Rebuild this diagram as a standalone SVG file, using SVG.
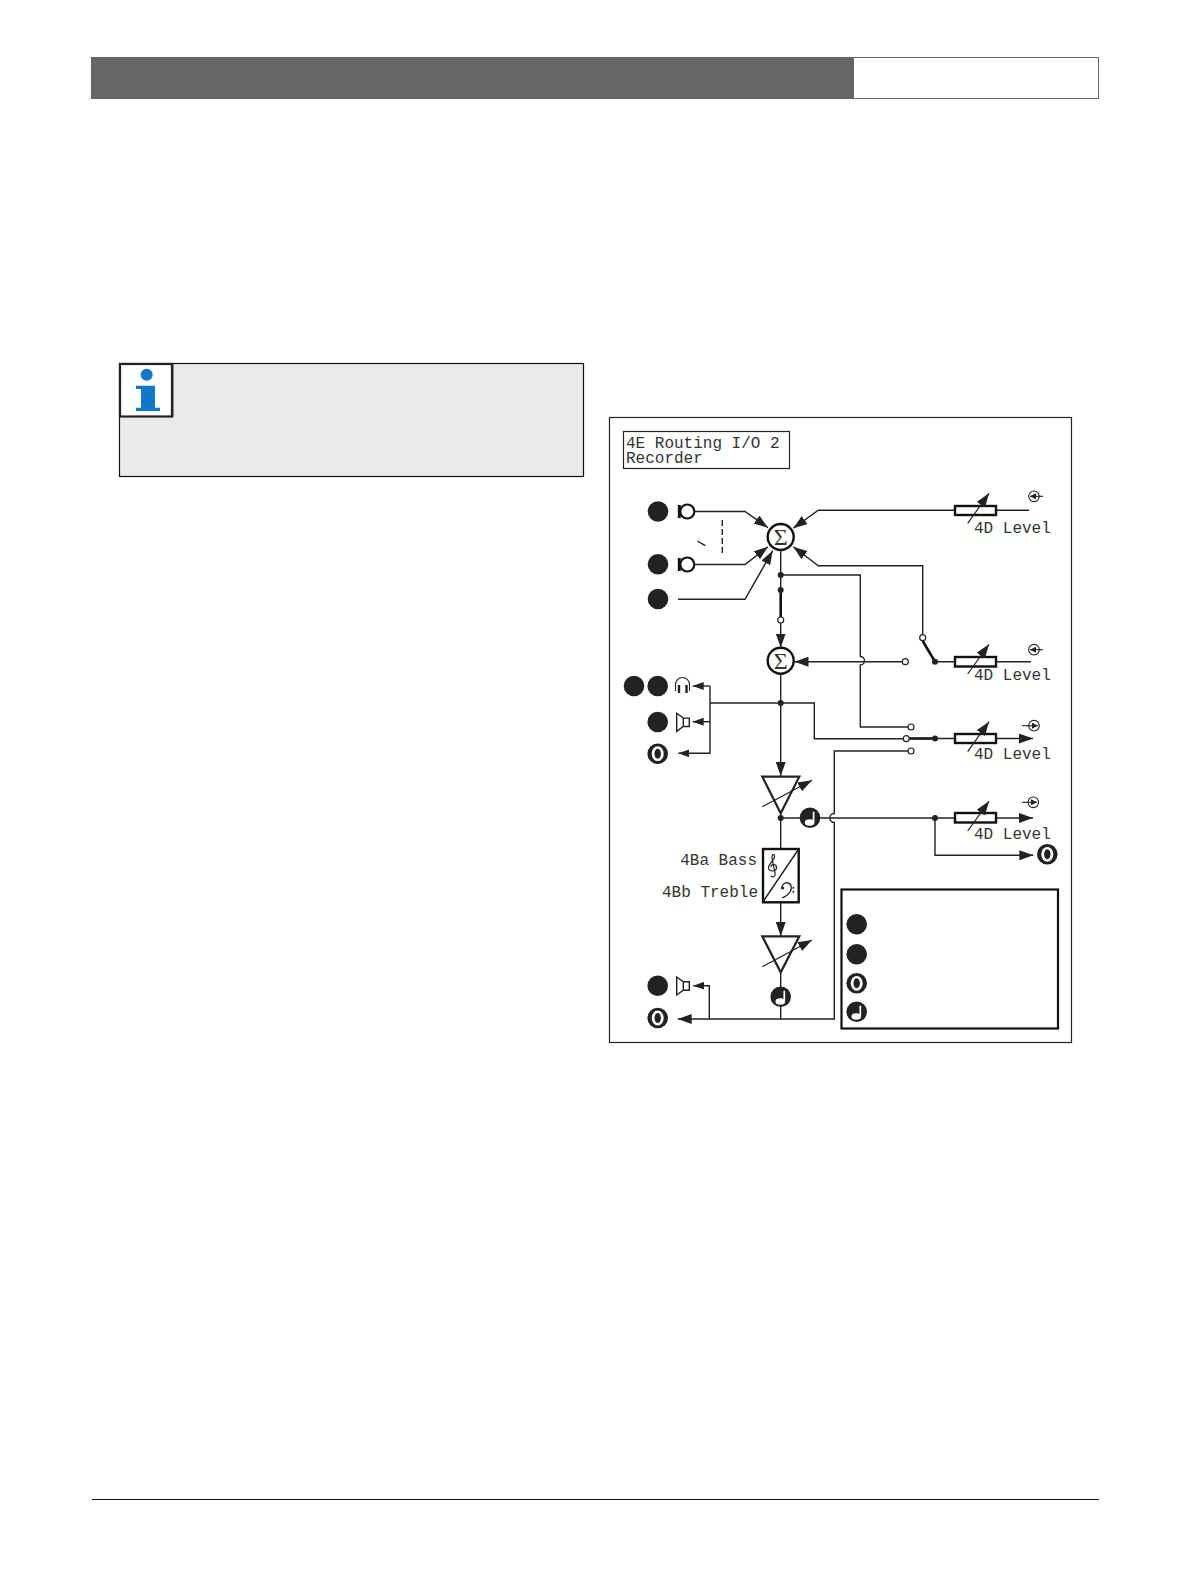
<svg xmlns="http://www.w3.org/2000/svg" width="1190" height="1588" viewBox="0 0 1190 1588">
<style>
.w{fill:none;stroke:#222;stroke-width:1.4}
.th{fill:none;stroke:#111;stroke-width:2.6}
.box{fill:#fff;stroke:#111;stroke-width:2.4}
.b{fill:#222}
.o{fill:#fff;stroke:#222;stroke-width:1.2}
.lcd{font-family:"Liberation Mono","DejaVu Sans Mono",monospace;font-size:16px;fill:#333}
.va{fill:none;stroke:#222;stroke-width:1.2;marker-end:url(#ah)}
.s{font-family:"Liberation Serif",serif;font-size:24px;fill:#333;text-anchor:middle}
.y{fill:none;stroke:#222;stroke-width:1.1}
</style>
<defs>
<marker id="ah" markerUnits="userSpaceOnUse" markerWidth="15" markerHeight="10" refX="14" refY="5" orient="auto"><path d="M0 0L14 5L0 10z" fill="#222"/></marker>
<marker id="am" markerUnits="userSpaceOnUse" markerWidth="12" markerHeight="8" refX="11" refY="4" orient="auto"><path d="M0 0L11 4L0 8z" fill="#222"/></marker>
<marker id="as" markerUnits="userSpaceOnUse" markerWidth="7" markerHeight="6" refX="6" refY="3" orient="auto"><path d="M0 0L6 3L0 6z" fill="#222"/></marker>
<g id="note"><circle r="10.3" fill="#222"/><path d="M3.6 -6V4.5" stroke="#fff" stroke-width="1.7"/><ellipse cx="-0.4" cy="4.8" rx="4.8" ry="3.2" fill="#fff"/></g>
<g id="ringc"><circle r="10.3" fill="#222"/><ellipse rx="6" ry="7.4" fill="#fff"/><ellipse rx="3.2" ry="5" fill="#222"/></g>
<g id="spk"><path d="M-6.3 -8.7L.3 -3.9H6.3V4.5H.3L-6.3 9.3Z M.3 -3.9V4.5" fill="#fff" stroke="#222" stroke-width="1.4"/></g>
<g id="mic"><path d="M-8 -6.5V6.5" stroke="#111" stroke-width="3"/><circle r="7" fill="#fff" stroke="#111" stroke-width="2.2"/></g>
</defs>
<rect width="1190" height="1588" fill="#fff"/>
<g id="header">
<rect x="91.5" y="57.5" width="1007" height="41" fill="#fff" stroke="#666" stroke-width="1"/>
<rect x="91" y="57" width="763" height="42" fill="#666"/>
</g>
<path id="footer" d="M92 1499.5H1099" stroke="#111" stroke-width="1"/>
<g id="note-box">
<rect x="119.5" y="363.5" width="464" height="113" fill="#eaeaea" stroke="#111" stroke-width="1.2"/>
<path d="M173.5 364V417" fill="none" stroke="#999" stroke-width="1"/>
<rect x="120" y="364" width="52" height="52.5" fill="#fff" stroke="#222" stroke-width="2.2"/>
<circle cx="146.7" cy="374.7" r="6" fill="#1276c9"/>
<path d="M136 385.7H155V407.7H160V411H136V407.7H141V389H136Z" fill="#1276c9"/>
</g>
<g id="frame"><rect x="609.5" y="417.5" width="462" height="625" fill="#fff" stroke="#222" stroke-width="1.2"/></g>
<g id="title"><rect x="623.5" y="431.5" width="166" height="37" fill="#fff" stroke="#222" stroke-width="1.2"/>
<text class="lcd" x="626" y="448">4E Routing I/O 2<tspan x="626" y="463">Recorder</tspan></text></g>
<g id="connectors">
<path class="w" d="M694 511.5H745L768 527.7" marker-end="url(#ah)"/>
<path class="w" d="M694 564.5H745L768 546.7" marker-end="url(#ah)"/>
<path class="w" d="M678 599.3H745L772.7 550.7" marker-end="url(#ah)"/>
<path class="w" d="M1029 510.3H818.3L793.3 528.3" marker-end="url(#ah)"/>
<path class="w" d="M922.7 634V565.7H818.3L793.3 546.7" marker-end="url(#ah)"/>
<path class="w" d="M722.3 520V555" stroke-dasharray="6 3"/>
<path class="w" d="M697.3 541L705.3 545.7"/>
<path class="w" d="M780.7 550V617"/>
<path class="th" d="M780.7 590V617"/>
<path class="w" d="M780.7 623V647.5" marker-end="url(#ah)"/>
<path class="w" d="M780.7 575H860.3V656.5a4.2 4.2 0 0 1 0 8.4V727H908"/>
<path class="w" d="M902.3 661.7H794.5" marker-end="url(#ah)"/>
<path class="w" d="M1031 661.7H935"/>
<path class="th" d="M922.7 641L935 661.7"/>
<path class="w" d="M780.7 674V776" marker-end="url(#ah)"/>
<path class="w" d="M780.7 703H710M710 686V753.3H678.3" marker-end="url(#am)"/>
<path class="w" d="M710 686H692.7" marker-end="url(#am)"/>
<path class="w" d="M710 721.7H692.7" marker-end="url(#am)"/>
<path class="w" d="M780.7 703H814.3V738.7H903"/>
<path class="th" d="M909 738.5H935"/>
<path class="w" d="M935 738.5H1033" marker-end="url(#ah)"/>
<path class="w" d="M908 751H834.3V813.5a4.5 4.5 0 0 0 0 9V1019H677.7" marker-end="url(#ah)"/>
<path class="w" d="M780.7 813V848"/>
<path class="w" d="M780.7 818H1033" marker-end="url(#ah)"/>
<path class="w" d="M935 818V855.3H1033.3" marker-end="url(#ah)"/>
<path class="w" d="M780.7 902V936" marker-end="url(#ah)"/>
<path class="w" d="M780.7 972V1019"/>
<path class="w" d="M709.3 1019V985.7H693.3" marker-end="url(#am)"/>
</g>
<g id="junctions">
<circle class="b" cx="780.7" cy="575" r="3"/><circle class="b" cx="780.7" cy="590" r="3"/>
<circle class="o" cx="780.7" cy="620" r="3"/><circle class="b" cx="780.7" cy="703" r="3"/>
<circle class="b" cx="780.7" cy="818" r="3"/><circle class="b" cx="935" cy="661.7" r="3"/>
<circle class="b" cx="935" cy="738.5" r="3"/><circle class="b" cx="935" cy="818" r="3"/>
<circle class="o" cx="922.7" cy="637.7" r="3"/><circle class="o" cx="905.3" cy="661.7" r="3"/>
<circle class="o" cx="911" cy="727" r="3"/><circle class="o" cx="906.3" cy="738.7" r="3"/><circle class="o" cx="911" cy="751" r="3"/>
</g>
<g id="sum1"><circle cx="780.7" cy="537" r="13" fill="#fff" stroke="#111" stroke-width="2.4"/><text class="s" x="780.7" y="545">Σ</text></g>
<g id="sum2"><circle cx="780.7" cy="660.7" r="13" fill="#fff" stroke="#111" stroke-width="2.4"/><text class="s" x="780.7" y="668.7">Σ</text></g>
<g id="inputs">
<circle class="b" cx="658" cy="511.5" r="10.3"/><circle class="b" cx="658" cy="564.3" r="10.3"/><circle class="b" cx="658" cy="599" r="10.3"/>
<use href="#mic" x="687.3" y="511.5"/><use href="#mic" x="687.3" y="564.5"/>
</g>
<g id="outputs">
<circle class="b" cx="634" cy="686" r="10.3"/><circle class="b" cx="657.7" cy="686" r="10.3"/><circle class="b" cx="657.7" cy="722" r="10.3"/>
<use href="#ringc" x="657.7" y="753.7"/><circle class="b" cx="657.7" cy="985.7" r="10.3"/><use href="#ringc" x="657.7" y="1018"/>
<use href="#spk" x="683" y="722"/><use href="#spk" x="683" y="985.7"/>
<path d="M675.5 691V684.5A7 7 0 0 1 689.5 684.5V691" fill="none" stroke="#222" stroke-width="1.1"/>
<path d="M679 685V693M686.5 685V693" stroke="#222" stroke-width="2.4"/>
</g>
<g id="amp1"><path d="M762.3 776.7H799.3L780.7 813.3Z" fill="none" stroke="#222" stroke-width="2.2"/><path class="va" d="M762.3 806.7L812 780.3"/></g>
<g id="tone"><rect class="box" x="763" y="849" width="35.7" height="53.3"/><path class="w" d="M763.5 901L798 850"/>
<path d="M771 876C773 878 776 876 775 873L772 858C771.5 855 774 853 774.5 856C775 860 768 864 768.5 868C769 872 776 872 776.5 868C777 864 771 863 771 867" fill="none" stroke="#222" stroke-width="1.2"/>
<path d="M782 889C781 885 785 882 788 883C792 884 792 889 790 892C788 895 785 897 782 898" fill="none" stroke="#222" stroke-width="1.3"/><circle class="b" cx="782.7" cy="888" r="1.5"/><circle class="b" cx="793.3" cy="887.7" r="1"/><circle class="b" cx="793.3" cy="891.7" r="1"/></g>
<g id="amp2"><path d="M762.3 936.3H799.3L780.7 972.3Z" fill="none" stroke="#222" stroke-width="2.2"/><path class="va" d="M762.3 966.7L812 940"/></g>
<use id="note1" href="#note" x="810" y="817.7"/>
<use id="note2" href="#note" x="780.7" y="996.7"/>
<use id="out-right" href="#ringc" x="1047.3" y="854.3"/>
<g id="tone-labels"><text class="lcd" x="757" y="865" text-anchor="end">4Ba Bass</text><text class="lcd" x="758" y="897" text-anchor="end">4Bb Treble</text></g>
<g id="level1"><rect class="box" x="955" y="506" width="41" height="9"/><path class="va" d="M967.7 523.3L989 493.3"/><text class="lcd" x="974" y="532.5">4D Level</text>
<circle class="y" cx="1034" cy="496.3" r="5.3"/><path class="y" d="M1043 496.3H1030" marker-end="url(#as)"/></g>
<g id="level2"><rect class="box" x="955" y="657" width="41" height="9.5"/><path class="va" d="M967.7 674L989 644.3"/><text class="lcd" x="974" y="680">4D Level</text>
<circle class="y" cx="1034" cy="649.7" r="5.3"/><path class="y" d="M1043 649.7H1030" marker-end="url(#as)"/></g>
<g id="level3"><rect class="box" x="955" y="734" width="41" height="9"/><path class="va" d="M967.7 751.7L989 721.7"/><text class="lcd" x="974" y="758.7">4D Level</text>
<circle class="y" cx="1034" cy="725.7" r="5.3"/><path class="y" d="M1022 725.7H1038" marker-end="url(#as)"/></g>
<g id="level4"><rect class="box" x="955" y="813" width="41" height="9.5"/><path class="va" d="M967.7 831L989 801.3"/><text class="lcd" x="974" y="838.7">4D Level</text>
<circle class="y" cx="1033.3" cy="802.3" r="5.3"/><path class="y" d="M1022 802.3H1037" marker-end="url(#as)"/></g>
<g id="legend"><rect x="841.5" y="889.5" width="216.5" height="139" fill="#fff" stroke="#111" stroke-width="2.2"/>
<circle class="b" cx="856.7" cy="924.3" r="10.3"/><circle class="b" cx="856.7" cy="954.3" r="10.3"/><use href="#ringc" x="856.7" y="983.3"/><use href="#note" x="856.7" y="1011.7"/></g>
</svg>
